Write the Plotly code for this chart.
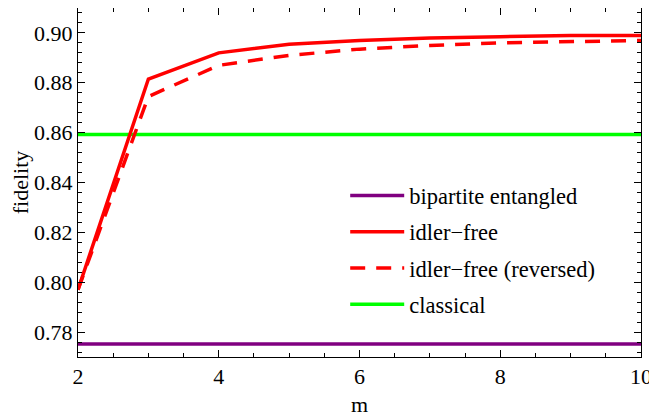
import plotly.graph_objects as go

m = [2, 3, 4, 5, 6, 7, 8, 9, 10]
idler_free = [0.797, 0.8815, 0.892, 0.8955, 0.897, 0.898, 0.8985, 0.899, 0.899]
idler_free_rev = [0.797, 0.8745, 0.887, 0.891, 0.8935, 0.895, 0.896, 0.8965, 0.897]
bipartite_level = 0.7752
classical_level = 0.8593
m_range = [2, 10]

FONT = "Liberation Serif"

fig = go.Figure()
fig.add_trace(go.Scatter(x=m_range, y=[bipartite_level, bipartite_level], mode="lines",
                         name="bipartite entangled", legendgroup="a", legendrank=1,
                         line=dict(color="#800080", width=3.5)))
fig.add_trace(go.Scatter(x=m_range, y=[classical_level, classical_level], mode="lines",
                         name="classical", legendgroup="d", legendrank=4,
                         line=dict(color="#00ff00", width=3.5)))
fig.add_trace(go.Scatter(x=m, y=idler_free_rev, mode="lines",
                         name="idler\u2212free (reversed)", legendgroup="c", legendrank=3,
                         line=dict(color="#ff0000", width=3.5, dash="15px,11px")))
fig.add_trace(go.Scatter(x=m, y=idler_free, mode="lines",
                         name="idler\u2212free", legendgroup="b", legendrank=2,
                         line=dict(color="#ff0000", width=3.5)))

axis_common = dict(
    showline=True, linecolor="black", linewidth=1, mirror="allticks",
    ticks="inside", ticklen=7, tickcolor="black", tickwidth=1,
    showgrid=False, zeroline=False,
    tickfont=dict(family=FONT, size=22, color="black"),
)

fig.update_xaxes(range=[2, 10], tick0=2, dtick=2,
                 minor=dict(dtick=0.5, ticks="inside", ticklen=4, tickcolor="black", showgrid=False),
                 title=dict(text="m", font=dict(family=FONT, size=22, color="black"), standoff=8),
                 **axis_common)
fig.update_yaxes(range=[0.77, 0.91], tick0=0.78, dtick=0.02, tickformat=".2f",
                 minor=dict(dtick=0.004, ticks="inside", ticklen=4, tickcolor="black", showgrid=False),
                 title=dict(text="fidelity", font=dict(family=FONT, size=22, color="black"), standoff=6),
                 **axis_common)

# page body has an 8px default margin: figure sized/margined to compensate
fig.update_layout(
    width=649, height=410,
    margin=dict(l=70, r=16, t=0, b=61),
    plot_bgcolor="white", paper_bgcolor="white",
    font=dict(family=FONT, color="black"),
    legend=dict(x=0.4746, y=0.5236, xanchor="left", yanchor="top", itemwidth=54,
                bgcolor="rgba(0,0,0,0)", font=dict(family=FONT, size=22.5, color="black"),
                tracegroupgap=4, traceorder="grouped"),
)

fig.write_html("out.html")
